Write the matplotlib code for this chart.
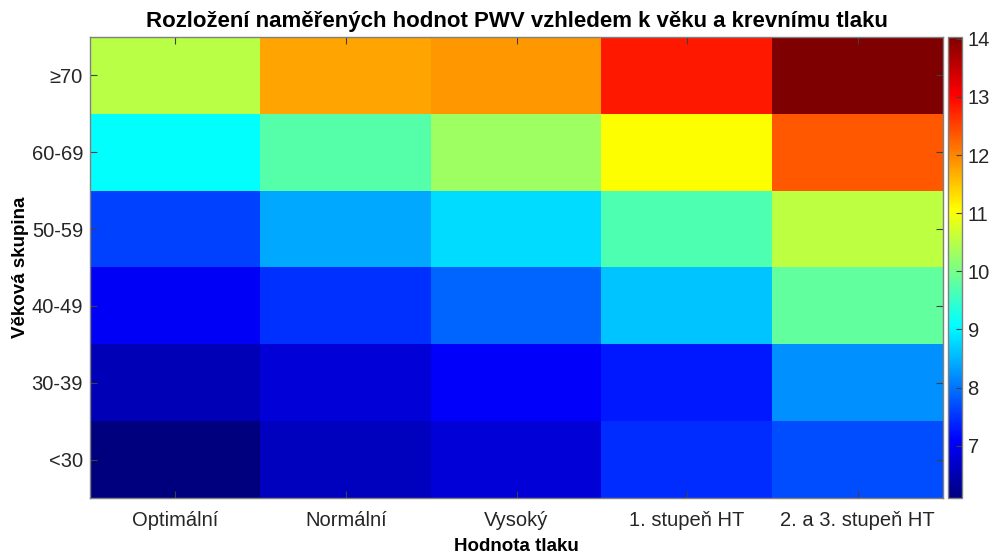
import numpy as np
import matplotlib.pyplot as plt
from matplotlib.colors import LinearSegmentedColormap

plt.rcParams['font.family'] = ['Liberation Sans', 'DejaVu Sans']

# categories
tlak = ['Optimální', 'Normální', 'Vysoký', '1. stupeň HT', '2. a 3. stupeň HT']
vek = ['≥70', '60-69', '50-59', '40-49', '30-39', '<30']

# mean PWV per age group (rows, top to bottom) and pressure class
pwv_70 = [10.5, 11.75, 11.85, 12.85, 14.03]
pwv_60 = [9.08, 9.75, 10.3, 11.05, 12.35]
pwv_50 = [7.59, 8.40, 8.82, 9.67, 10.55]
pwv_40 = [7.03, 7.49, 7.88, 8.64, 9.83]
pwv_30 = [6.54, 6.79, 7.09, 7.29, 8.22]
pwv_lt30 = [6.10, 6.60, 6.79, 7.45, 7.69]

data = np.array([pwv_70, pwv_60, pwv_50, pwv_40, pwv_30, pwv_lt30])

# matlab style jet
jet = LinearSegmentedColormap.from_list(
    'mjet',
    [(0, (0, 0, 0.5)), (1/8, (0, 0, 1)), (3/8, (0, 1, 1)),
     (5/8, (1, 1, 0)), (7/8, (1, 0, 0)), (1, (0.5, 0, 0))], N=256)

W, H = 992, 557
fig = plt.figure(figsize=(W/100, H/100), dpi=100)
left, right, top, bottom = 90, 943, 37, 498
ax = fig.add_axes([left/W, (H-bottom)/H, (right-left)/W, (bottom-top)/H])
cax = fig.add_axes([948/W, (H-bottom)/H, 14/W, (bottom-top)/H])

im = ax.imshow(data, cmap=jet, aspect='auto', interpolation='nearest')

ax.set_xticks(range(len(tlak)))
ax.set_xticklabels(tlak)
ax.set_yticks(range(len(vek)))
ax.set_yticklabels(vek)
ax.tick_params(direction='in', top=True, right=True, length=5, width=0.8,
               color='#404040', labelsize=14.5, labelcolor='#262626')
ax.tick_params(axis='x', pad=9)
ax.tick_params(axis='y', pad=5)
for s in ax.spines.values():
    s.set_color('#808080')
    s.set_linewidth(1)

ax.set_title('Rozložení naměřených hodnot PWV vzhledem k věku a krevnímu tlaku',
             fontsize=16, fontweight='bold', pad=7)
ax.set_xlabel('Hodnota tlaku', fontsize=13.5, fontweight='bold', labelpad=6)
ax.set_ylabel('Věková skupina', fontsize=13.5, fontweight='bold', labelpad=2)

cb = fig.colorbar(im, cax=cax)
cb.set_ticks(range(7, 15))
cax.tick_params(direction='in', length=4, width=0.8, color='#404040',
                labelsize=14.5, labelcolor='#262626', pad=4)
cb.outline.set_edgecolor('#808080')
cb.outline.set_linewidth(1)

fig.savefig('out.png', dpi=100)
